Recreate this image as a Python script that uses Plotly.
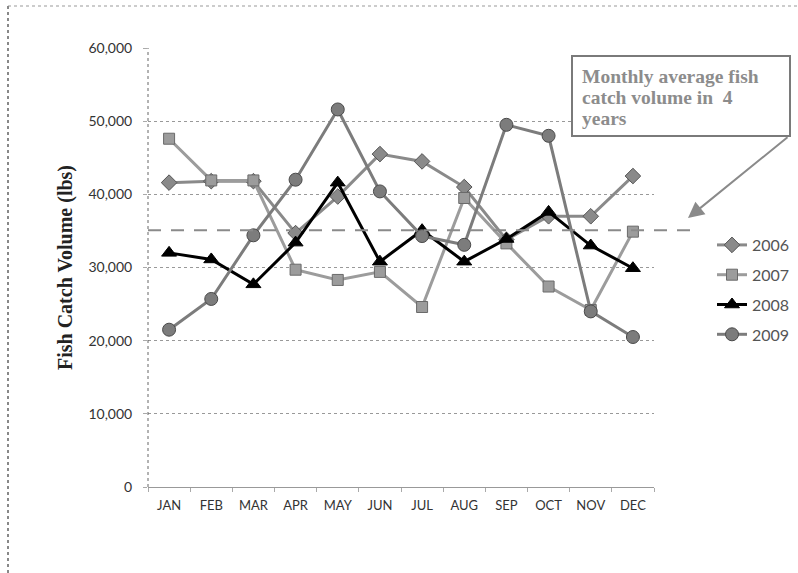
import plotly.graph_objects as go

months = ["JAN", "FEB", "MAR", "APR", "MAY", "JUN", "JUL", "AUG", "SEP", "OCT", "NOV", "DEC"]
y2006 = [41600, 41800, 41800, 34700, 39700, 45500, 44500, 41000, 33800, 37000, 37000, 42500]
y2007 = [47600, 41900, 41900, 29700, 28300, 29400, 24600, 39500, 33300, 27400, 24200, 34900]
y2008 = [32000, 31100, 27700, 33400, 41600, 30800, 35100, 30800, 33900, 37600, 33000, 29900]
y2009 = [21500, 25700, 34400, 42000, 51600, 40400, 34300, 33100, 49500, 48000, 24000, 20500]
avg_value = 35100
y_ticks = [0, 10000, 20000, 30000, 40000, 50000, 60000]
y_tick_labels = ["0", "10,000", "20,000", "30,000", "40,000", "50,000", "60,000"]
note_lines = ["Monthly average fish", "catch volume in  4", "years"]

W, H = 798, 573
L, R, T, B = 148, 654, 48, 487


def px_x(p):
    return (p - L) / (R - L)


def px_y(p):
    return (B - p) / (B - T)


fig = go.Figure()

series = [
    ("2006", y2006, "diamond", "#8a8a8a", "#555555", 12, 3),
    ("2007", y2007, "square", "#9c9c9c", "#6a6a6a", 11, 3),
    ("2008", y2008, "triangle-up", "#000000", "#000000", 13, 3),
    ("2009", y2009, "circle", "#7c7c7c", "#4a4a4a", 13, 3),
]
for name, vals, sym, col, edge, size, lw in series:
    fig.add_trace(go.Scatter(
        x=months, y=vals, name=name, mode="lines+markers",
        legendgroup=name,
        line=dict(color=col, width=lw),
        marker=dict(symbol=sym, size=size, color=col, line=dict(color=edge, width=1)),
    ))

shapes = [
    dict(type="line", xref="paper", yref="paper", x0=0, x1=0, y0=0, y1=1,
         line=dict(color="#666666", width=1, dash="dot")),
    dict(type="line", xref="paper", yref="y", x0=0, x1=px_x(690), y0=avg_value, y1=avg_value,
         line=dict(color="#8a8a8a", width=2, dash="13px,10px")),
    dict(type="rect", xref="paper", yref="paper", x0=px_x(572), x1=px_x(790), y0=px_y(136), y1=px_y(56),
         line=dict(color="#7a7a7a", width=2), fillcolor="white"),
    dict(type="line", xref="paper", yref="paper", x0=px_x(8), x1=px_x(798), y0=px_y(6), y1=px_y(6),
         line=dict(color="#999999", width=1, dash="dot")),
    dict(type="line", xref="paper", yref="paper", x0=px_x(8), x1=px_x(8), y0=px_y(6), y1=px_y(573),
         line=dict(color="#888888", width=2, dash="dot")),
]

annotations = []
for i, line_text in enumerate(note_lines):
    annotations.append(dict(
        xref="paper", yref="paper", x=px_x(580), y=px_y(76 + 21.5 * i),
        xanchor="left", yanchor="middle", text="<b>" + line_text + "</b>",
        showarrow=False, align="left",
        font=dict(family="Liberation Serif", size=19.5, color="#8c8c8c")))
annotations.append(dict(
    xref="paper", yref="paper", x=px_x(688), y=px_y(218), text="", showarrow=True,
    ax=101, ay=-82, arrowhead=2, arrowsize=1.6, arrowwidth=2, arrowcolor="#8a8a8a",
    standoff=0))

fig.update_layout(
    width=W, height=H,
    margin=dict(l=L, r=W - R, t=T, b=H - B, pad=0, autoexpand=False),
    paper_bgcolor="white", plot_bgcolor="white",
    shapes=shapes, annotations=annotations,
    showlegend=True,
    legend=dict(x=px_x(712), y=px_y(228), xanchor="left", yanchor="top",
                font=dict(family="Lato", size=16, color="#555555"),
                tracegroupgap=6, itemwidth=30, bgcolor="rgba(0,0,0,0)"),
    xaxis=dict(type="category", range=[-0.5, 11.5], showgrid=False, automargin=False,
               showline=True, linecolor="#999999", linewidth=1,
               ticks="outside", tickson="boundaries", ticklen=4, tickcolor="#aaaaaa",
               ticklabelstandoff=6,
               tickfont=dict(family="Lato", size=13, color="#333333")),
    yaxis=dict(range=[0, 60000], tickvals=y_ticks, ticktext=y_tick_labels, automargin=False,
               showgrid=True, gridcolor="#999999", griddash="dot", gridwidth=1,
               zeroline=False, showline=False,
               ticks="outside", ticklen=4, tickcolor="#aaaaaa",
               ticklabelstandoff=8,
               tickfont=dict(family="Lato", size=14, color="#333333"),
               title=dict(text="<b>Fish Catch Volume (lbs)</b>", standoff=10,
                          font=dict(family="Liberation Serif", size=20, color="#222222"))),
    font=dict(family="Lato"),
)

fig.write_html("out.html", config={"displayModeBar": False},
               post_script="document.body.style.margin='0';")
